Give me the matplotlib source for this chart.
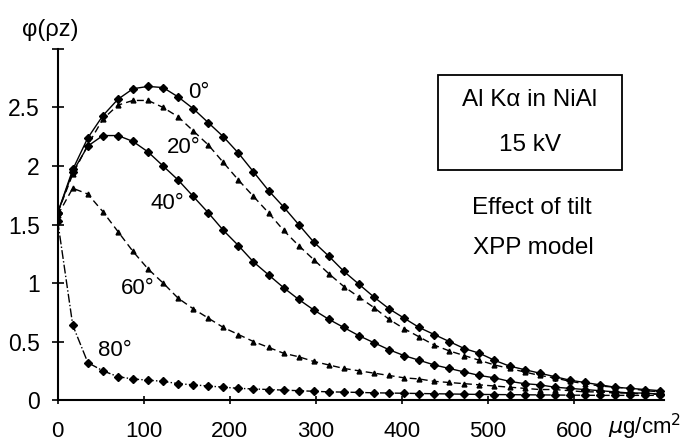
import numpy as np
import matplotlib
matplotlib.use("Agg")
import matplotlib.pyplot as plt
from matplotlib.patches import Rectangle

plt.rcParams['font.family'] = ['Liberation Sans', 'DejaVu Sans']

# mass depth (ug/cm2), one point every 17.5
depth = [0, 17.5, 35, 52.5, 70, 87.5, 105, 122.5, 140, 157.5,
         175, 192.5, 210, 227.5, 245, 262.5, 280, 297.5, 315, 332.5,
         350, 367.5, 385, 402.5, 420, 437.5, 455, 472.5, 490, 507.5,
         525, 542.5, 560, 577.5, 595, 612.5, 630, 647.5, 665, 682.5, 700]

phi_0 = [1.60, 1.97, 2.24, 2.43, 2.57, 2.66, 2.68, 2.67, 2.59, 2.49,
         2.37, 2.25, 2.11, 1.95, 1.79, 1.65, 1.50, 1.35, 1.23, 1.10,
         0.99, 0.88, 0.78, 0.70, 0.62, 0.56, 0.50, 0.44, 0.40, 0.34,
         0.29, 0.26, 0.23, 0.20, 0.17, 0.15, 0.13, 0.11, 0.10, 0.09, 0.08]
phi_20 = [1.60, 1.93, 2.18, 2.40, 2.52, 2.56, 2.56, 2.50, 2.42, 2.30,
          2.18, 2.03, 1.88, 1.74, 1.60, 1.45, 1.32, 1.20, 1.08, 0.97,
          0.88, 0.79, 0.69, 0.61, 0.54, 0.47, 0.42, 0.38, 0.34, 0.30,
          0.27, 0.24, 0.21, 0.19, 0.16, 0.14, 0.12, 0.11, 0.10, 0.08, 0.07]
phi_40 = [1.60, 1.95, 2.17, 2.26, 2.26, 2.21, 2.12, 2.00, 1.88, 1.74,
          1.60, 1.45, 1.32, 1.18, 1.07, 0.96, 0.86, 0.77, 0.69, 0.62,
          0.55, 0.49, 0.43, 0.38, 0.34, 0.30, 0.27, 0.24, 0.21, 0.19,
          0.16, 0.14, 0.13, 0.11, 0.10, 0.09, 0.08, 0.07, 0.06, 0.06, 0.05]
phi_60 = [1.58, 1.81, 1.76, 1.61, 1.44, 1.27, 1.12, 1.00, 0.87, 0.78,
          0.70, 0.62, 0.56, 0.50, 0.45, 0.40, 0.37, 0.33, 0.30, 0.27,
          0.25, 0.23, 0.21, 0.19, 0.18, 0.16, 0.15, 0.14, 0.13, 0.12,
          0.11, 0.10, 0.09, 0.09, 0.08, 0.07, 0.07, 0.06, 0.06, 0.05, 0.05]
phi_80 = [1.53, 0.64, 0.32, 0.25, 0.20, 0.18, 0.17, 0.16, 0.14, 0.13,
          0.12, 0.11, 0.10, 0.095, 0.09, 0.085, 0.08, 0.075, 0.07, 0.068,
          0.065, 0.062, 0.06, 0.058, 0.056, 0.054, 0.052, 0.05, 0.048, 0.047,
          0.046, 0.045, 0.044, 0.043, 0.042, 0.041, 0.04, 0.04, 0.04, 0.04, 0.04]

tilt_labels = ['0°', '20°', '40°', '60°', '80°']
label_x = [164, 146, 127, 93, 66]
label_y = [2.63, 2.16, 1.68, 0.95, 0.42]

fig = plt.figure(figsize=(6.95, 4.45), dpi=100)
ax = fig.add_axes([0.083, 0.101, 0.873, 0.789])

# curve styles: diamonds for 0/40/80, triangles for 20/60
ax.plot(depth, phi_0, '-', color='black', lw=1.0, marker='D', ms=4.5)
ax.plot(depth, phi_20, '--', color='black', lw=1.0, marker='^', ms=3.5, dashes=(5, 3))
ax.plot(depth, phi_40, '-', color='black', lw=1.0, marker='D', ms=4.5)
ax.plot(depth, phi_60, '--', color='black', lw=1.0, marker='^', ms=3.5, dashes=(5, 3))
ax.plot(depth, phi_80, '-.', color='black', lw=1.0, marker='D', ms=4.5)

for lab, lx, ly in zip(tilt_labels, label_x, label_y):
    ax.text(lx, ly, lab, fontsize=16, ha='center', va='center')

ax.set_xlim(0, 705)
ax.set_ylim(0, 3.0)
ax.set_xticks([0, 100, 200, 300, 400, 500, 600])
# top of the y axis has a cap tick without a label
ax.set_yticks([0, 0.5, 1, 1.5, 2, 2.5, 3])
ax.set_yticklabels(['0', '0.5', '1', '1.5', '2', '2.5', ''])
ax.spines['top'].set_visible(False)
ax.spines['right'].set_visible(False)
ax.spines['left'].set_linewidth(1.5)
ax.spines['bottom'].set_linewidth(1.5)
ax.tick_params(axis='x', direction='inout', length=6, width=1.2, labelsize=16, pad=12)
ax.tick_params(axis='y', direction='inout', length=8, width=1.2, labelsize=16.5, pad=9)

fig.text(645 / 695, 1 - 427 / 445, r'$\mu$g/cm$^2$', fontsize=16, ha='center', va='center')
fig.text(50 / 695, 1 - 30 / 445, 'φ(ρz)', fontsize=17, ha='center', va='center')

# annotation box
fig.patches.append(Rectangle((438 / 695, 1 - 170 / 445), 184 / 695, 95 / 445,
                             transform=fig.transFigure, fill=False, ec='black', lw=1.3))
fig.text(530 / 695, 1 - 100 / 445, 'Al Kα in NiAl', fontsize=17.5, ha='center', va='center')
fig.text(530 / 695, 1 - 145 / 445, '15 kV', fontsize=17.5, ha='center', va='center')
fig.text(532 / 695, 1 - 208 / 445, 'Effect of tilt', fontsize=17.5, ha='center', va='center')
fig.text(533 / 695, 1 - 248 / 445, 'XPP model', fontsize=17.5, ha='center', va='center')

fig.savefig('out.png', dpi=100)
